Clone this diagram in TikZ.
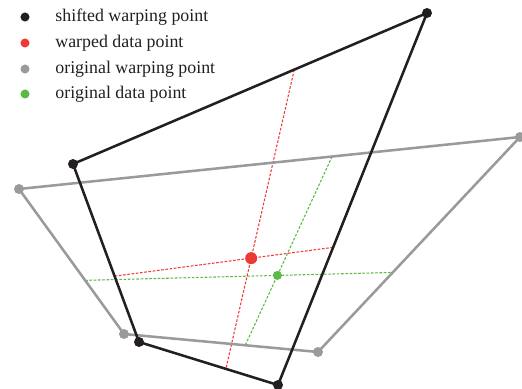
\documentclass[tikz,border=0pt]{standalone}
\usepackage{fontspec}
\setmainfont{Liberation Serif}
\definecolor{wpblack}{HTML}{231F20}
\definecolor{wpred}{HTML}{EE3A34}
\definecolor{wpgray}{HTML}{9A9A9C}
\definecolor{wpgreen}{HTML}{5BB947}
\usetikzlibrary{calc, positioning}
\tikzset{
	quadline/.style={line width=1.9pt, line join=round},
	gridline/.style={line width=0.8pt, dash pattern=on 2pt off 1.2pt},
	wdot/.style={circle, fill=#1, inner sep=0pt, minimum size=7.5pt},
	legtext/.style={font=\fontsize{13.4}{16}\selectfont, text=wpblack, inner sep=0pt}
}

\begin{document}
\begin{tikzpicture}[x=0.75pt, y=-0.75pt, node distance=1cm and 19pt]
	\useasboundingbox (0,0) rectangle (522,389);
	% shifted warping points
	\coordinate (bTL) at (73,164);
	\coordinate (bTR) at (427,13);
	\coordinate (bBR) at (278,385);
	\coordinate (bBL) at (139,342);
	% original warping points
	\coordinate (gTL) at (19,189);
	\coordinate (gTR) at (520,137);
	\coordinate (gBR) at (318,352);
	\coordinate (gBL) at (124,334);
	% grid lines through the data points
	\coordinate (rT) at ($(bTL)!0.625!(bTR)$);
	\coordinate (rB) at ($(bBL)!0.625!(bBR)$);
	\coordinate (rL) at ($(bTL)!0.63!(bBL)$);
	\coordinate (rR) at ($(bTR)!0.63!(bBR)$);
	\coordinate (gT) at ($(gTL)!0.625!(gTR)$);
	\coordinate (gB) at ($(gBL)!0.625!(gBR)$);
	\coordinate (gL) at ($(gTL)!0.63!(gBL)$);
	\coordinate (gR) at ($(gTR)!0.63!(gBR)$);
	\draw[gridline, wpgreen] (gT) -- (gB);
	\draw[gridline, wpgreen] (gL) -- (gR);
	\draw[gridline, wpred] (rT) -- (rB);
	\draw[gridline, wpred] (rL) -- (rR);
	\draw[quadline, wpgray] (gTL) -- (gTR) -- (gBR) -- (gBL) -- cycle;
	\draw[quadline, wpblack] (bTL) -- (bTR) -- (bBR) -- (bBL) -- cycle;
	% points
	\foreach \p in {gTL, gTR, gBR, gBL}
		\node[wdot=wpgray] (dot\p) at (\p) {};
	\foreach \p in {bTL, bTR, bBR, bBL}
		\node[wdot=wpblack] (dot\p) at (\p) {};
	\node[wdot=wpgreen, minimum size=6.8pt] (gdata) at ($(gT)!0.63!(gB)$) {};
	\node[wdot=wpred, minimum size=9pt] (rdata) at ($(rT)!0.63!(rB)$) {};
	% legend
	\node[wdot=wpblack, minimum size=6.8pt] (lshift) at (25,17) {};
	\node[wdot=wpred, minimum size=6.8pt] (lwarp) at (25,43) {};
	\node[wdot=wpgray, minimum size=6.8pt] (lorig) at (25,69) {};
	\node[wdot=wpgreen, minimum size=6.8pt] (ldata) at (25,94) {};
	\node[legtext, right=of lshift] (tshift) {shifted warping point};
	\node[legtext, right=of lwarp] (twarp) {warped data point};
	\node[legtext, right=of lorig] (torig) {original warping point};
	\node[legtext, right=of ldata] (tdata) {original data point};
\end{tikzpicture}
\end{document}
